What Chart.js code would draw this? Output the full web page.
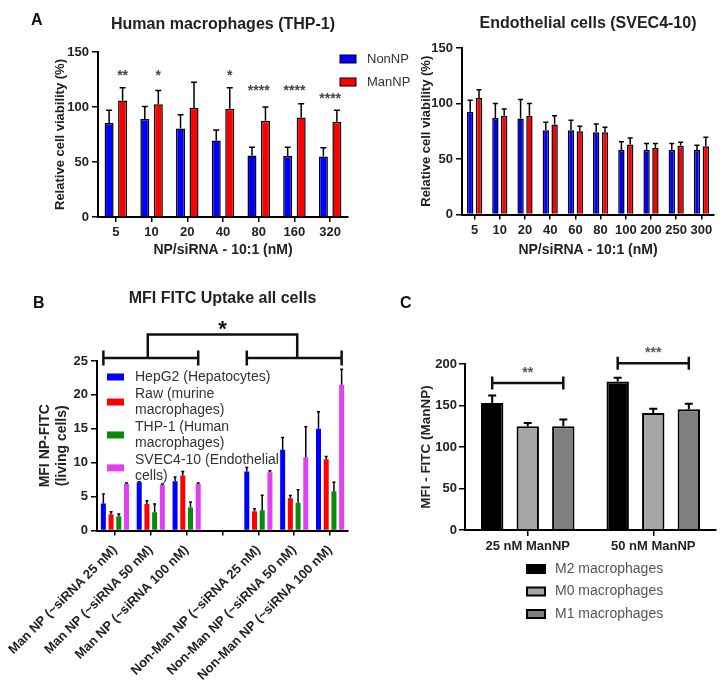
<!DOCTYPE html>
<html><head><meta charset="utf-8">
<script src="https://cdn.jsdelivr.net/npm/chart.js@4.4.0/dist/chart.umd.min.js"></script>
<style>
body{margin:0;background:#fff;width:728px;height:684px;position:relative;overflow:hidden;font-family:"Liberation Sans",Arial,sans-serif}
canvas{position:absolute}
.lab{position:absolute;font-weight:bold;font-size:16px;line-height:16px;color:#111}
</style></head><body>
<canvas id="a1" width="420" height="275" style="left:0;top:0"></canvas>
<canvas id="a2" width="364" height="275" style="left:364px;top:0"></canvas>
<canvas id="b" width="364" height="404" style="left:0;top:280px"></canvas>
<canvas id="c" width="364" height="404" style="left:364px;top:280px"></canvas>
<div class="lab" style="left:31px;top:12px">A</div>
<div class="lab" style="left:33px;top:295px">B</div>
<div class="lab" style="left:400px;top:295px">C</div>
<script>
// ---------- DATA ----------
const thpDoses = ['5','10','20','40','80','160','320'];
const thpNon = [85.5, 89, 80.5, 69.5, 56, 55.5, 55];
const thpNonErr = [97, 100.5, 93, 79, 63.5, 63.5, 63];
const thpMan = [106, 102.5, 99, 98.5, 87.5, 90.5, 86.5];
const thpManErr = [117.5, 115, 122.5, 117.5, 100, 103, 97];
const thpSig = ['**','*','','*','****','****','****'];
const thpSigLevel = [130.5, 130.5, null, 130.5, 117.5, 117.5, 109.5];

const svecDoses = ['5','10','20','40','60','80','100','200','250','300'];
const svecNon = [92.5, 87, 86.5, 76, 76, 74, 58, 58, 58, 58];
const svecNonErr = [103, 100, 103.5, 83, 85, 81.5, 65.5, 64, 64, 62.5];
const svecMan = [105, 89, 89, 81, 75, 74, 63, 60, 62, 61.5];
const svecManErr = [112.5, 95, 100, 89, 79.5, 78.5, 69, 64, 65, 69.5];

const uptakeGroups = ['Man NP (~siRNA 25 nM)','Man NP (~siRNA 50 nM)','Man NP (~siRNA 100 nM)','',
  'Non-Man NP (~siRNA 25 nM)','Non-Man NP (~siRNA 50 nM)','Non-Man NP (~siRNA 100 nM)'];
const hepg2 = [4.0, 7.1, 7.25, null, 8.7, 11.9, 15.0];
const hepg2Err = [5.4, 7.2, 7.9, null, 9.3, 13.7, 17.5];
const raw = [2.4, 3.9, 8.1, null, 2.85, 4.75, 10.5];
const rawErr = [2.75, 4.4, 8.7, null, 3.2, 5.15, 10.9];
const thp1 = [2.1, 2.7, 3.4, null, 3.0, 4.1, 5.8];
const thp1Err = [2.45, 3.9, 4.2, null, 5.2, 6.0, 7.1];
const svec = [6.9, 6.7, 6.85, null, 8.6, 10.8, 21.5];
const svecErr = [7.0, 6.85, 7.0, null, 8.8, 15.3, 23.8];
const uptakeBracketLevel = 25.45, uptakeConnectLevel = 28.9, uptakeStarLevel = 30.3;

const macGroups = ['25 nM ManNP','50 nM ManNP'];
const m2 = [153, 179];
const m2Err = [162, 183.5];
const m0 = [125, 141];
const m0Err = [129, 146];
const m1 = [125, 145.5];
const m1Err = [133, 152];
const macSig = ['**','***'];
const macBracketLevel = [177, 201];
const macSigLevel = [193, 217];

// ---------- HELPERS ----------
const FAM = '"Liberation Sans", Arial, sans-serif';
Chart.defaults.font.family = FAM;
Chart.defaults.color = '#222';
Chart.defaults.animation = false;

const errBars = {
  id: 'errBars',
  afterDatasetsDraw(chart, args, o) {
    const ctx = chart.ctx, ys = chart.scales.y;
    ctx.save();
    ctx.strokeStyle = '#000';
    ctx.lineWidth = o.width;
    chart.data.datasets.forEach((ds, di) => {
      if (!ds.errTop) return;
      chart.getDatasetMeta(di).data.forEach((el, i) => {
        if (ds.data[i] == null || ds.errTop[i] == null) return;
        const x = el.x, yt = ys.getPixelForValue(ds.errTop[i]);
        ctx.beginPath();
        ctx.moveTo(x, el.y); ctx.lineTo(x, yt);
        ctx.moveTo(x - o.cap / 2, yt); ctx.lineTo(x + o.cap / 2, yt);
        ctx.stroke();
      });
    });
    ctx.restore();
  }
};

const boxLegend = {
  id: 'boxLegend',
  afterDraw(chart, args, o) {
    const ctx = chart.ctx;
    ctx.save();
    ctx.font = o.font;
    ctx.textBaseline = 'middle';
    let y = o.y;
    chart.data.datasets.forEach(ds => {
      const lines = ds.label.split('\n');
      const h = lines.length * o.lineH;
      const cy = y + h / 2;
      ctx.fillStyle = ds.backgroundColor;
      ctx.fillRect(o.x, cy - o.boxH / 2, o.boxW, o.boxH);
      if (o.boxBorder) {
        ctx.lineWidth = o.boxBorder; ctx.strokeStyle = '#000';
        ctx.strokeRect(o.x, cy - o.boxH / 2, o.boxW, o.boxH);
      }
      ctx.fillStyle = o.color;
      lines.forEach((ln, k) => ctx.fillText(ln, o.textX, y + o.lineH * (k + 0.5)));
      y += h + o.gap;
    });
    ctx.restore();
  }
};

function xAxis(o) {
  return {
    type: 'category', offset: true,
    grid: {display: true, drawOnChartArea: false, drawTicks: true, tickLength: o.tl, color: '#000', lineWidth: 1.5, offset: false},
    border: {display: true, color: '#000', width: 2},
    ticks: {color: '#222', font: {size: 13, weight: 'bold'}, padding: o.pad, maxRotation: o.rot || 0, minRotation: o.rot || 0, autoSkip: false},
    title: {display: !!o.title, text: o.title || '', color: '#222', font: {size: 14, weight: 'bold'}, padding: {top: 0, bottom: o.tpad || 0}},
    afterFit(s) { s.height = o.h; s.paddingLeft = 0; s.paddingRight = 0; }
  };
}
function yAxis(o) {
  return {
    min: 0, max: o.max,
    ticks: {stepSize: o.step, color: '#222', font: {size: 13, weight: 'bold'}, padding: o.pad},
    grid: {drawOnChartArea: false, drawTicks: true, tickLength: 6, color: '#000', lineWidth: 1.5},
    border: {display: true, color: '#000', width: 2},
    title: {display: true, text: o.title, color: '#222', font: {size: o.tsize, weight: 'bold'}, padding: {top: o.tpad, bottom: 0}},
    afterFit(s) { s.width = o.w; s.paddingTop = 0; s.paddingBottom = 0; }
  };
}
function titleOpt(text, size, top, bottom) {
  return {display: true, text, fullSize: false, color: '#222', font: {size, weight: 'bold', lineHeight: 1.2}, padding: {top, bottom}};
}

// ---------- A1: THP-1 ----------
const thpSigPlugin = {
  id: 'thpSig',
  afterDatasetsDraw(chart) {
    const ctx = chart.ctx, xs = chart.scales.x, ys = chart.scales.y;
    const man = chart.getDatasetMeta(1).data;
    ctx.save();
    ctx.font = 'bold 14px ' + FAM; ctx.fillStyle = '#444';
    ctx.textAlign = 'center'; ctx.textBaseline = 'middle';
    thpSig.forEach((s, i) => {
      if (!s) return;
      const x = s.length > 2 ? xs.getPixelForValue(i) : man[i].x;
      ctx.fillText(s, x, ys.getPixelForValue(thpSigLevel[i]) + 3);
    });
    ctx.restore();
  }
};
new Chart(document.getElementById('a1'), {
  type: 'bar',
  data: {labels: thpDoses, datasets: [
    {label: 'NonNP', data: thpNon, errTop: thpNonErr, backgroundColor: '#0000ff', borderColor: '#000', borderWidth: 1.5, categoryPercentage: 0.756, barPercentage: 0.667},
    {label: 'ManNP', data: thpMan, errTop: thpManErr, backgroundColor: '#ff0000', borderColor: '#000', borderWidth: 1.5, categoryPercentage: 0.756, barPercentage: 0.667}
  ]},
  options: {
    responsive: false, animation: false,
    layout: {padding: {left: 0, right: 72, top: 0, bottom: 0}},
    plugins: {legend: {display: false}, tooltip: {enabled: false},
      title: titleOpt('Human macrophages (THP-1)', 16, 15.4, 17.4),
      errBars: {width: 1.5, cap: 6},
      boxLegend: {x: 340, y: 47.5, boxW: 16, boxH: 8, boxBorder: 1, lineH: 23, gap: 0, textX: 367, font: '13px ' + FAM, color: '#333'}
    },
    scales: {
      x: xAxis({tl: 5, pad: 3, h: 58, title: 'NP/siRNA - 10:1 (nM)', tpad: 16.6}),
      y: yAxis({max: 150, step: 50, pad: 3, w: 98, title: 'Relative cell viability (%)', tsize: 13, tpad: 52.2})
    }
  },
  plugins: [errBars, boxLegend, thpSigPlugin]
});

// ---------- A2: SVEC4-10 ----------
new Chart(document.getElementById('a2'), {
  type: 'bar',
  data: {labels: svecDoses, datasets: [
    {label: 'NonNP', data: svecNon, errTop: svecNonErr, backgroundColor: '#0000ff', borderColor: '#000', borderWidth: 1.5, categoryPercentage: 0.7, barPercentage: 0.72},
    {label: 'ManNP', data: svecMan, errTop: svecManErr, backgroundColor: '#ff0000', borderColor: '#000', borderWidth: 1.5, categoryPercentage: 0.7, barPercentage: 0.72}
  ]},
  options: {
    responsive: false, animation: false,
    layout: {padding: {left: 0, right: 14, top: 0, bottom: 0}},
    plugins: {legend: {display: false}, tooltip: {enabled: false},
      title: titleOpt('Endothelial cells (SVEC4-10)', 16, 13.9, 14.9),
      errBars: {width: 1.5, cap: 5}
    },
    scales: {
      x: xAxis({tl: 5, pad: 3, h: 60.5, title: 'NP/siRNA - 10:1 (nM)', tpad: 16.6}),
      y: yAxis({max: 150, step: 50, pad: 3, w: 98, title: 'Relative cell viability (%)', tsize: 13, tpad: 54.2})
    }
  },
  plugins: [errBars]
});

// ---------- B: uptake ----------
const uptakeBrackets = {
  id: 'uptakeBrackets',
  afterDraw(chart) {
    const ctx = chart.ctx, ys = chart.scales.y;
    const first = chart.getDatasetMeta(0).data, last = chart.getDatasetMeta(3).data;
    const yb = ys.getPixelForValue(uptakeBracketLevel), yc = ys.getPixelForValue(uptakeConnectLevel);
    const groups = [[first[0].x, last[2].x], [first[4].x, last[6].x]];
    ctx.save();
    ctx.strokeStyle = '#111'; ctx.lineWidth = 2.5; ctx.lineCap = 'butt';
    groups.forEach(([l, r]) => {
      ctx.beginPath();
      ctx.moveTo(l, yb); ctx.lineTo(r, yb);
      ctx.moveTo(l, yb - 7.5); ctx.lineTo(l, yb + 7.5);
      ctx.moveTo(r, yb - 7.5); ctx.lineTo(r, yb + 7.5);
      ctx.stroke();
    });
    const m1 = (groups[0][0] + groups[0][1]) / 2 - 3, m2 = (groups[1][0] + groups[1][1]) / 2 + 3;
    ctx.beginPath();
    ctx.moveTo(m1, yb); ctx.lineTo(m1, yc); ctx.lineTo(m2, yc); ctx.lineTo(m2, yb);
    ctx.stroke();
    ctx.font = 'bold 22px ' + FAM; ctx.fillStyle = '#111';
    ctx.textAlign = 'center'; ctx.textBaseline = 'middle';
    ctx.fillText('*', (m1 + m2) / 2, ys.getPixelForValue(uptakeStarLevel) + 5);
    ctx.restore();
  }
};
new Chart(document.getElementById('b'), {
  type: 'bar',
  data: {labels: uptakeGroups, datasets: [
    {label: 'HepG2 (Hepatocytes)', data: hepg2, errTop: hepg2Err, backgroundColor: '#0000ff'},
    {label: 'Raw (murine\nmacrophages)', data: raw, errTop: rawErr, backgroundColor: '#ff0000'},
    {label: 'THP-1 (Human\nmacrophages)', data: thp1, errTop: thp1Err, backgroundColor: '#0a8a0a'},
    {label: 'SVEC4-10 (Endothelial\ncells)', data: svec, errTop: svecErr, backgroundColor: '#e040f0'}
  ]},
  options: {
    responsive: false, animation: false,
    datasets: {bar: {categoryPercentage: 0.86, barPercentage: 0.65, borderWidth: 0}},
    layout: {padding: {left: 0, right: 16, top: 0, bottom: 0}},
    plugins: {legend: {display: false}, tooltip: {enabled: false},
      title: titleOpt('MFI FITC Uptake all cells', 16, 9.4, 52.4),
      errBars: {width: 1.5, cap: 3},
      boxLegend: {x: 107, y: 89.15, boxW: 17, boxH: 7, boxBorder: 0, lineH: 15.7, gap: 1.5, textX: 135, font: '14px ' + FAM, color: '#333'}
    },
    scales: {
      x: xAxis({tl: 5, pad: 7, h: 153.5, rot: 45}),
      y: yAxis({max: 25, step: 5, pad: 3, w: 97, title: ['MFI NP-FITC', '(living cells)'], tsize: 14, tpad: 36.6})
    }
  },
  plugins: [errBars, boxLegend, uptakeBrackets]
});

// ---------- C: macrophage subtypes ----------
const macBrackets = {
  id: 'macBrackets',
  afterDraw(chart) {
    const ctx = chart.ctx, ys = chart.scales.y;
    const a = chart.getDatasetMeta(0).data, b = chart.getDatasetMeta(2).data;
    ctx.save();
    macSig.forEach((s, i) => {
      const l = a[i].x, r = b[i].x, y = ys.getPixelForValue(macBracketLevel[i]);
      ctx.strokeStyle = '#111'; ctx.lineWidth = 2.5;
      ctx.beginPath();
      ctx.moveTo(l, y); ctx.lineTo(r, y);
      ctx.moveTo(l, y - 6.5); ctx.lineTo(l, y + 6.5);
      ctx.moveTo(r, y - 6.5); ctx.lineTo(r, y + 6.5);
      ctx.stroke();
      ctx.font = 'bold 14px ' + FAM; ctx.fillStyle = '#555';
      ctx.textAlign = 'center'; ctx.textBaseline = 'middle';
      ctx.fillText(s, (l + r) / 2, ys.getPixelForValue(macSigLevel[i]) + 3);
    });
    ctx.restore();
  }
};
new Chart(document.getElementById('c'), {
  type: 'bar',
  data: {labels: macGroups, datasets: [
    {label: 'M2 macrophages', data: m2, errTop: m2Err, backgroundColor: '#000000'},
    {label: 'M0 macrophages', data: m0, errTop: m0Err, backgroundColor: '#a6a6a6'},
    {label: 'M1 macrophages', data: m1, errTop: m1Err, backgroundColor: '#7f7f7f'}
  ]},
  options: {
    responsive: false, animation: false,
    datasets: {bar: {categoryPercentage: 0.85, barPercentage: 0.63, borderWidth: 2, borderColor: '#000'}},
    layout: {padding: {left: 0, right: 12, top: 84, bottom: 0}},
    plugins: {legend: {display: false}, tooltip: {enabled: false},
      errBars: {width: 2, cap: 8},
      boxLegend: {x: 163, y: 277.75, boxW: 18, boxH: 8, boxBorder: 2, lineH: 22.5, gap: 0, textX: 191, font: '14px ' + FAM, color: '#555'}
    },
    scales: {
      x: xAxis({tl: 6, pad: 3, h: 154}),
      y: yAxis({max: 200, step: 50, pad: 2, w: 101, title: 'MFI - FITC (ManNP)', tsize: 13.5, tpad: 54})
    }
  },
  plugins: [errBars, boxLegend, macBrackets]
});
</script>
</body></html>
